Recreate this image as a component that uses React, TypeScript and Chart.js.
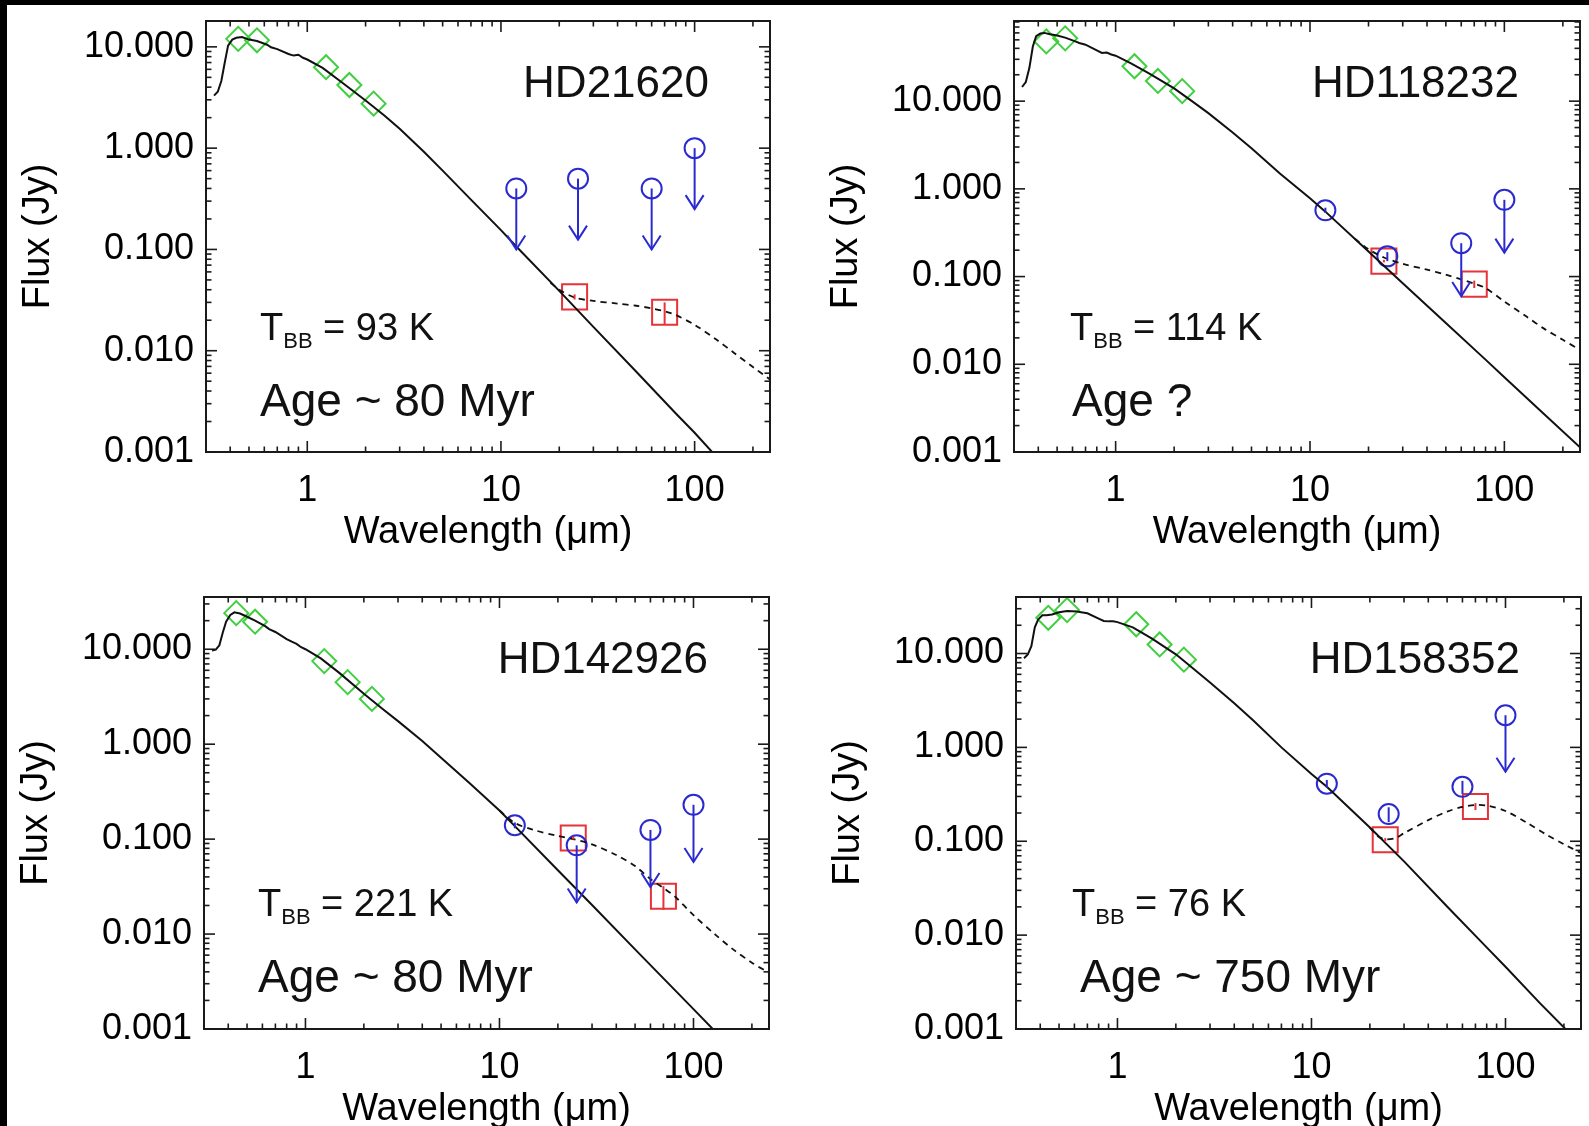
import React, { useEffect, useRef } from 'react';
import { Chart, registerables } from 'chart.js';

Chart.register(...registerables);

// ---------------- data ----------------
const X_MIN = 0.33;
const X_MAX = 245;
const X_TICKS = [1, 10, 100];
const Y_TICKS = [0.001, 0.01, 0.1, 1, 10];
const Y_MIN = 0.001;

const STAR_NAMES = ['HD21620', 'HD118232', 'HD142926', 'HD158352'];
const T_BB = [93, 114, 221, 76];
const AGES = ['Age ~ 80 Myr', 'Age ?', 'Age ~ 80 Myr', 'Age ~ 750 Myr'];
const Y_MAX = [18, 82, 35.5, 40];

// stellar photosphere model (solid line), wavelength grid in micron
const MODEL_WL = [0.33, 0.345, 0.36, 0.375, 0.39, 0.41, 0.43, 0.46, 0.5, 0.55, 0.62, 0.65, 0.7, 0.8, 0.85, 0.9, 0.95, 1.0, 1.2, 1.5, 2.0, 2.5, 3.0, 4.0, 5.0, 7.0, 10, 12, 20, 30, 50, 80, 100, 150, 245];
const MODEL_HD21620 = [3.3, 3.6, 4.6, 7.0, 10.3, 11.8, 12.3, 12.5, 11.8, 11.4, 10.5, 9.9, 9.5, 8.5, 8.2, 8.35, 7.8, 7.5, 6.2, 4.5, 2.95, 2.1, 1.55, 0.92, 0.6, 0.31, 0.155, 0.107, 0.039, 0.0172, 0.0062, 0.0024, 0.00155, 0.00066, 0.00024];
const MODEL_HD118232 = [14.5, 16.5, 24, 42, 55, 59, 60, 58, 56, 53, 48, 46, 44, 38, 35.5, 35.8, 34, 33, 27, 20.5, 14, 9.8, 7.3, 4.4, 2.9, 1.5, 0.78, 0.55, 0.193, 0.084, 0.0295, 0.0113, 0.0071, 0.0031, 0.00113];
const MODEL_HD142926 = [9.7, 9.9, 11, 15, 19.5, 23, 24.5, 23.8, 22, 20, 17.5, 16.3, 15.2, 12.8, 12, 11.4, 10.5, 10, 8.0, 5.6, 3.4, 2.35, 1.75, 1.08, 0.72, 0.39, 0.2, 0.137, 0.047, 0.0202, 0.0069, 0.00258, 0.00162, 0.00069, 0.00025];
const MODEL_HD158352 = [8.9, 9.8, 12, 19, 23, 25.5, 25.5, 26, 27.5, 28.4, 28, 27.5, 26.8, 23.5, 22.2, 22, 22, 21.6, 19, 14.5, 9.8, 6.7, 4.9, 2.95, 1.95, 1.0, 0.52, 0.38, 0.14, 0.061, 0.0202, 0.0074, 0.0046, 0.0019, 0.00068];

// photosphere + dust blackbody (dashed line)
const DUST_WL_HD21620 = [18, 20, 24, 30, 40, 50, 60, 70, 80, 100, 130, 160, 200, 245];
const DUST_HD21620 = [0.047, 0.04, 0.0335, 0.031, 0.0292, 0.0278, 0.0262, 0.0245, 0.0225, 0.018, 0.0128, 0.0095, 0.0069, 0.0052];
const DUST_WL_HD118232 = [17, 20, 24, 30, 40, 50, 60, 70, 80, 100, 130, 160, 200, 245];
const DUST_HD118232 = [0.27, 0.205, 0.165, 0.14, 0.12, 0.105, 0.093, 0.083, 0.074, 0.052, 0.035, 0.0255, 0.019, 0.0146];
const DUST_WL_HD142926 = [10, 12, 15, 20, 24, 30, 40, 50, 60, 70, 80, 100, 130, 160, 200, 245];
const DUST_HD142926 = [0.2, 0.148, 0.125, 0.108, 0.1, 0.088, 0.068, 0.052, 0.038, 0.0305, 0.025, 0.0158, 0.0098, 0.0069, 0.005, 0.0039];
const DUST_WL_HD158352 = [20, 22, 24, 27, 30, 40, 50, 60, 70, 80, 100, 130, 160, 200, 245];
const DUST_HD158352 = [0.14, 0.113, 0.105, 0.108, 0.122, 0.168, 0.207, 0.232, 0.243, 0.24, 0.21, 0.156, 0.12, 0.093, 0.075];

// optical / near-IR photometry (green diamonds)
const PHOT_WL = [0.44, 0.55, 1.25, 1.65, 2.2];
const PHOT_HD21620 = [12.0, 11.6, 6.3, 4.2, 2.75];
const PHOT_HD118232 = [48, 52, 25, 17, 13];
const PHOT_HD142926 = [24, 19.5, 7.5, 4.5, 3.0];
const PHOT_HD158352 = [24, 29, 20.5, 12.5, 8.6];

// IRAS (blue circles); upper = 1 means upper limit (arrow)
const IRAS_WL = [12, 25, 60, 100];
const IRAS_HD21620 = [0.4, 0.5, 0.4, 1.0];
const IRAS_UP_HD21620 = [1, 1, 1, 1];
const IRAS_ERR_HD21620 = [0, 0, 0, 0];
const IRAS_HD118232 = [0.57, 0.17, 0.24, 0.75];
const IRAS_UP_HD118232 = [0, 0, 1, 1];
const IRAS_ERR_HD118232 = [0.04, 0.02, 0, 0];
const IRAS_HD142926 = [0.14, 0.086, 0.125, 0.23];
const IRAS_UP_HD142926 = [0, 1, 1, 1];
const IRAS_ERR_HD142926 = [0.01, 0, 0, 0];
const IRAS_HD158352 = [0.41, 0.195, 0.38, 2.2];
const IRAS_UP_HD158352 = [0, 0, 0, 1];
const IRAS_ERR_HD158352 = [0.04, 0.035, 0.06, 0];

// Spitzer MIPS (red squares)
const MIPS_WL = [24, 70];
const MIPS_HD21620 = [0.034, 0.024];
const MIPS_ERR_HD21620 = [0.002, 0.006];
const MIPS_HD118232 = [0.15, 0.082];
const MIPS_ERR_HD118232 = [0.005, 0.008];
const MIPS_HD142926 = [0.103, 0.025];
const MIPS_ERR_HD142926 = [0.004, 0.007];
const MIPS_HD158352 = [0.104, 0.235];
const MIPS_ERR_HD158352 = [0.004, 0.02];

// ---------------- layout / style ----------------
const FONT = '"Liberation Sans", Arial, Helvetica, sans-serif';
const GREEN = '#3fcf3f';
const BLUE = '#2a2ad0';
const RED = '#e5333a';
const INK = '#111111';
const PAD_L = 200;
const PAD_T = 40;
const PAD_B = 120;
const PAD_R = 8;

const FRAMES = [
  { L: 206, T: 21, R: 770, B: 452, tbbDx: 54, ageDx: 54 },
  { L: 1014, T: 21, R: 1580, B: 452, tbbDx: 56, ageDx: 58 },
  { L: 204, T: 597, R: 769, B: 1029, tbbDx: 54, ageDx: 54 },
  { L: 1016, T: 597, R: 1581, B: 1029, tbbDx: 56, ageDx: 64 },
];

type Panel = {
  name: string; tbb: number; age: string; yMax: number;
  model: number[]; dustWl: number[]; dust: number[]; phot: number[];
  iras: number[]; irasUp: number[]; irasErr: number[];
  mips: number[]; mipsErr: number[];
  frame: { L: number; T: number; R: number; B: number; tbbDx: number; ageDx: number };
};

const PANELS: Panel[] = [
  { model: MODEL_HD21620, dustWl: DUST_WL_HD21620, dust: DUST_HD21620, phot: PHOT_HD21620, iras: IRAS_HD21620, irasUp: IRAS_UP_HD21620, irasErr: IRAS_ERR_HD21620, mips: MIPS_HD21620, mipsErr: MIPS_ERR_HD21620 },
  { model: MODEL_HD118232, dustWl: DUST_WL_HD118232, dust: DUST_HD118232, phot: PHOT_HD118232, iras: IRAS_HD118232, irasUp: IRAS_UP_HD118232, irasErr: IRAS_ERR_HD118232, mips: MIPS_HD118232, mipsErr: MIPS_ERR_HD118232 },
  { model: MODEL_HD142926, dustWl: DUST_WL_HD142926, dust: DUST_HD142926, phot: PHOT_HD142926, iras: IRAS_HD142926, irasUp: IRAS_UP_HD142926, irasErr: IRAS_ERR_HD142926, mips: MIPS_HD142926, mipsErr: MIPS_ERR_HD142926 },
  { model: MODEL_HD158352, dustWl: DUST_WL_HD158352, dust: DUST_HD158352, phot: PHOT_HD158352, iras: IRAS_HD158352, irasUp: IRAS_UP_HD158352, irasErr: IRAS_ERR_HD158352, mips: MIPS_HD158352, mipsErr: MIPS_ERR_HD158352 },
].map((d, i) => ({ ...d, name: STAR_NAMES[i], tbb: T_BB[i], age: AGES[i], yMax: Y_MAX[i], frame: FRAMES[i] }));

const pts = (xs: number[], ys: number[]) => xs.map((x, i) => ({ x, y: ys[i] }));

function logTicks(min: number, max: number) {
  const out: { v: number; major: boolean }[] = [];
  for (let e = Math.floor(Math.log10(min)) - 1; e <= Math.ceil(Math.log10(max)); e++) {
    for (let k = 1; k <= 9; k++) {
      const v = k * Math.pow(10, e);
      if (v >= min * 0.9999 && v <= max * 1.0001) out.push({ v, major: k === 1 });
    }
  }
  return out;
}

function makeOverlay(p: Panel) {
  return {
    id: 'sedOverlay',
    afterDatasetsDraw(chart: any) {
      const { ctx, chartArea: a } = chart;
      const xs = chart.scales.x;
      const ys = chart.scales.y;
      const seg = (x1: number, y1: number, x2: number, y2: number) => {
        ctx.beginPath(); ctx.moveTo(x1, y1); ctx.lineTo(x2, y2); ctx.stroke();
      };
      ctx.save();
      ctx.beginPath();
      ctx.rect(a.left, a.top, a.right - a.left, a.bottom - a.top);
      ctx.clip();
      ctx.lineWidth = 2;
      // IRAS error bars and upper-limit arrows
      ctx.strokeStyle = BLUE;
      IRAS_WL.forEach((wl, i) => {
        const px = xs.getPixelForValue(wl);
        const f = p.iras[i];
        if (p.irasUp[i]) {
          const y1 = ys.getPixelForValue(f);
          const y2 = ys.getPixelForValue(f * 0.25);
          seg(px, y1, px, y2);
          ctx.beginPath();
          ctx.moveTo(px - 9, y2 - 14); ctx.lineTo(px, y2); ctx.lineTo(px + 9, y2 - 14);
          ctx.stroke();
        } else if (p.irasErr[i] > 0) {
          seg(px, ys.getPixelForValue(f - p.irasErr[i]), px, ys.getPixelForValue(f + p.irasErr[i]));
        }
      });
      ctx.strokeStyle = RED;
      MIPS_WL.forEach((wl, i) => {
        const px = xs.getPixelForValue(wl);
        const f = p.mips[i];
        const e = p.mipsErr[i];
        if (e > 0) seg(px, ys.getPixelForValue(f - e), px, ys.getPixelForValue(f + e));
      });
      ctx.restore();

      // frame + inward ticks on all four sides
      ctx.save();
      ctx.strokeStyle = '#1a1a1a';
      ctx.lineWidth = 2;
      ctx.strokeRect(a.left, a.top, a.right - a.left, a.bottom - a.top);
      ctx.lineWidth = 1.6;
      for (const t of logTicks(X_MIN, X_MAX)) {
        const px = xs.getPixelForValue(t.v);
        const len = t.major ? 11 : 5.5;
        seg(px, a.bottom, px, a.bottom - len);
        seg(px, a.top, px, a.top + len);
      }
      for (const t of logTicks(Y_MIN, p.yMax)) {
        const py = ys.getPixelForValue(t.v);
        const len = t.major ? 11 : 5.5;
        seg(a.left, py, a.left + len, py);
        seg(a.right, py, a.right - len, py);
      }
      // annotations
      ctx.fillStyle = INK;
      ctx.textBaseline = 'alphabetic';
      ctx.textAlign = 'right';
      ctx.font = `44px ${FONT}`;
      ctx.fillText(p.name, a.right - 61, a.top + 76);
      ctx.textAlign = 'left';
      let x = a.left + p.frame.tbbDx;
      const yb = a.top + 319;
      ctx.font = `38px ${FONT}`;
      ctx.fillText('T', x, yb);
      x += ctx.measureText('T').width;
      ctx.font = `22px ${FONT}`;
      ctx.fillText('BB', x, yb + 8);
      x += ctx.measureText('BB').width;
      ctx.font = `38px ${FONT}`;
      ctx.fillText(` = ${p.tbb} K`, x, yb);
      ctx.font = `46px ${FONT}`;
      ctx.fillText(p.age, a.left + p.frame.ageDx, a.top + 395);
      ctx.restore();
    },
  };
}

function buildConfig(p: Panel): any {
  return {
    type: 'scatter',
    data: {
      datasets: [
        {
          data: pts(MODEL_WL, p.model), showLine: true, borderColor: INK, borderWidth: 2,
          pointRadius: 0, tension: 0, fill: false,
        },
        {
          data: pts(p.dustWl, p.dust), showLine: true, borderColor: INK, borderWidth: 1.8,
          borderDash: [6, 5], pointRadius: 0, tension: 0.3, fill: false,
        },
        {
          data: pts(PHOT_WL, p.phot), showLine: false, pointStyle: 'rectRot', pointRadius: 12,
          pointBorderColor: GREEN, pointBorderWidth: 2, pointBackgroundColor: 'rgba(0,0,0,0)',
        },
        {
          data: pts(IRAS_WL, p.iras), showLine: false, pointStyle: 'circle', pointRadius: 10,
          pointBorderColor: BLUE, pointBorderWidth: 2, pointBackgroundColor: 'rgba(0,0,0,0)',
        },
        {
          data: pts(MIPS_WL, p.mips), showLine: false, pointStyle: 'rect', pointRadius: 17.7,
          pointBorderColor: RED, pointBorderWidth: 2, pointBackgroundColor: 'rgba(0,0,0,0)',
        },
      ],
    },
    options: {
      responsive: false,
      maintainAspectRatio: false,
      animation: false,
      events: [],
      layout: { autoPadding: false, padding: { left: 0, top: PAD_T, right: PAD_R, bottom: 0 } },
      plugins: { legend: { display: false }, tooltip: { enabled: false } },
      scales: {
        x: {
          type: 'logarithmic', position: 'bottom', min: X_MIN, max: X_MAX,
          afterBuildTicks: (s: any) => { s.ticks = X_TICKS.map((v) => ({ value: v })); },
          afterFit: (s: any) => { s.height = PAD_B; s.paddingLeft = 0; s.paddingRight = 0; },
          grid: { display: false, drawTicks: false },
          border: { display: false },
          ticks: {
            callback: (v: any) => String(v), color: '#000', padding: 17, autoSkip: false,
            maxRotation: 0, font: { family: FONT, size: 36 },
          },
          title: {
            display: true, text: 'Wavelength (\u03bcm)', color: '#000',
            font: { family: FONT, size: 38 }, padding: { top: 0, bottom: 17 },
          },
        },
        y: {
          type: 'logarithmic', position: 'left', min: Y_MIN, max: p.yMax,
          afterBuildTicks: (s: any) => { s.ticks = Y_TICKS.map((v) => ({ value: v })); },
          afterFit: (s: any) => { s.width = PAD_L; s.paddingTop = 0; s.paddingBottom = 0; },
          grid: { display: false, drawTicks: false },
          border: { display: false },
          ticks: {
            callback: (v: any) => Number(v).toFixed(3), color: '#000', padding: 12,
            autoSkip: false, font: { family: FONT, size: 36 },
          },
          title: {
            display: true, text: 'Flux (Jy)', color: '#000',
            font: { family: FONT, size: 38 }, padding: { top: 10, bottom: 0 },
          },
        },
      },
    },
    plugins: [makeOverlay(p)],
  };
}

function SedPanel({ p }: { p: Panel }) {
  const ref = useRef<HTMLCanvasElement | null>(null);
  const w = PAD_L + (p.frame.R - p.frame.L) + PAD_R;
  const h = PAD_T + (p.frame.B - p.frame.T) + PAD_B;
  useEffect(() => {
    if (!ref.current) return;
    const chart = new Chart(ref.current, buildConfig(p));
    return () => chart.destroy();
  }, []);
  return (
    <canvas
      ref={ref}
      width={w}
      height={h}
      style={{ position: 'absolute', left: p.frame.L - PAD_L, top: p.frame.T - PAD_T, width: w, height: h }}
    />
  );
}

export default function App() {
  useEffect(() => {
    document.body.style.margin = '0';
    document.body.style.background = '#000';
  }, []);
  return (
    <div style={{ position: 'absolute', left: 0, top: 0, width: 1589, height: 1126, background: '#000', overflow: 'hidden' }}>
      <div style={{ position: 'absolute', left: 7, top: 5, width: 1582, height: 1121, background: '#fff' }} />
      {PANELS.map((p, i) => (
        <SedPanel key={i} p={p} />
      ))}
    </div>
  );
}
